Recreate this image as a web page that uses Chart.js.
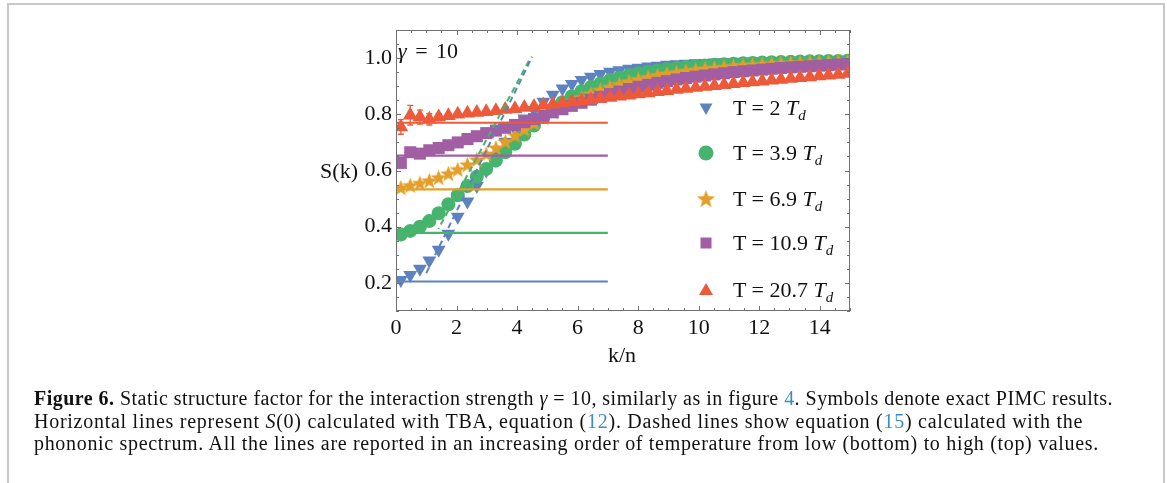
<!DOCTYPE html>
<html lang="en">
  <head>
    <meta charset="UTF-8" />
    <title>Figure 6 - static structure factor</title>
    <script src="https://cdn.jsdelivr.net/npm/chart.js@4.4.1/dist/chart.umd.min.js"></script>
    <style>
      html, body { margin: 0; padding: 0; background: #fff; }
      body { width: 1167px; height: 483px; position: relative; overflow: hidden; font-family: "Liberation Serif", "DejaVu Serif", serif; color: #111; }
      #box { position: absolute; left: 7px; top: 3px; width: 1154px; height: 520px; border-left: 2px solid #c8c8c8; border-top: 2px solid #c8c8c8; border-right: 2px solid #c8c8c8; }
      #chart { position: absolute; left: 0; top: 0; }
      .lbl { position: absolute; font-size: 22px; line-height: 26px; white-space: nowrap; }
      .leg { position: absolute; left: 733px; font-size: 22px; line-height: 26px; white-space: nowrap; }
      .leg sub { font-size: 15px; vertical-align: -5px; font-style: italic; }
      #caption { position: absolute; left: 34px; top: 387px; font-size: 20px; line-height: 22.5px; }
      #caption div { white-space: nowrap; }
      .ref { color: #3a8cc4; }
    </style>
  </head>
  <body>
    <div id="box"></div>
    <canvas id="chart" width="1167" height="483"></canvas>

    <div class="lbl" style="left: 398px; top: 38px; word-spacing: 3px"><i>γ</i> = 10</div>
    <div class="lbl" style="right: 809px; top: 158px">S(k)</div>
    <div class="lbl" style="left: 622px; top: 342px; transform: translateX(-50%)">k/n</div>

    <div class="leg" style="top: 95px">T = 2 <i>T</i><sub>d</sub></div>
    <div class="leg" style="top: 140px">T = 3.9 <i>T</i><sub>d</sub></div>
    <div class="leg" style="top: 186px">T = 6.9 <i>T</i><sub>d</sub></div>
    <div class="leg" style="top: 230px">T = 10.9 <i>T</i><sub>d</sub></div>
    <div class="leg" style="top: 277px">T = 20.7 <i>T</i><sub>d</sub></div>

    <div id="caption">
      <div><span class="line"><b>Figure 6.</b> Static structure factor for the interaction strength <i>γ</i> = 10, similarly as in figure <span class="ref">4</span>. Symbols denote exact PIMC results.</span></div>
      <div><span class="line">Horizontal lines represent <i>S</i>(0) calculated with TBA, equation (<span class="ref">12</span>). Dashed lines show equation (<span class="ref">15</span>) calculated with the</span></div>
      <div><span class="line">phononic spectrum. All the lines are reported in an increasing order of temperature from low (bottom) to high (top) values.</span></div>
    </div>

    <script>
      // k/n grid of the PIMC points
      const kValues = [0.16, 0.47, 0.79, 1.10, 1.41, 1.73, 2.04, 2.36, 2.67, 2.98,
        3.30, 3.61, 3.93, 4.24, 4.56, 4.87, 5.18, 5.50, 5.81, 6.13,
        6.44, 6.75, 7.07, 7.38, 7.70, 8.01, 8.33, 8.64, 8.95, 9.27,
        9.58, 9.90, 10.21, 10.52, 10.84, 11.15, 11.47, 11.78, 12.10, 12.41,
        12.72, 13.04, 13.35, 13.67, 13.98, 14.29, 14.61, 14.92];

      // S(k), PIMC
      const sT2 = [0.210, 0.228, 0.250, 0.280, 0.318, 0.375, 0.435, 0.490, 0.545, 0.600,
        0.652, 0.702, 0.748, 0.785, 0.815, 0.845, 0.870, 0.892, 0.908, 0.922,
        0.934, 0.943, 0.951, 0.957, 0.962, 0.966, 0.970, 0.973, 0.976, 0.978,
        0.980, 0.982, 0.983, 0.984, 0.985, 0.986, 0.987, 0.988, 0.988, 0.989,
        0.989, 0.990, 0.990, 0.991, 0.991, 0.991, 0.992, 0.992];
      const sT39 = [0.372, 0.385, 0.400, 0.420, 0.448, 0.480, 0.512, 0.545, 0.578, 0.605,
        0.635, 0.665, 0.695, 0.728, 0.760, 0.790, 0.818, 0.843, 0.864, 0.882,
        0.897, 0.910, 0.922, 0.931, 0.939, 0.946, 0.951, 0.956, 0.961, 0.965,
        0.968, 0.971, 0.974, 0.976, 0.978, 0.980, 0.982, 0.983, 0.984, 0.985,
        0.986, 0.987, 0.988, 0.989, 0.989, 0.990, 0.990, 0.991];
      const sT69 = [0.540, 0.548, 0.556, 0.565, 0.576, 0.590, 0.605, 0.622, 0.640, 0.660,
        0.682, 0.704, 0.726, 0.748, 0.770, 0.790, 0.810, 0.828, 0.845, 0.860,
        0.874, 0.887, 0.898, 0.908, 0.917, 0.925, 0.932, 0.939, 0.945, 0.950,
        0.955, 0.959, 0.963, 0.966, 0.969, 0.972, 0.975, 0.977, 0.979, 0.981,
        0.982, 0.984, 0.985, 0.986, 0.987, 0.988, 0.989, 0.990];
      const sT109 = [0.627, 0.665, 0.660, 0.672, 0.680, 0.690, 0.700, 0.712, 0.722, 0.733,
        0.742, 0.752, 0.762, 0.772, 0.783, 0.795, 0.807, 0.818, 0.830, 0.841,
        0.852, 0.862, 0.872, 0.881, 0.890, 0.898, 0.905, 0.912, 0.918, 0.924,
        0.929, 0.934, 0.938, 0.942, 0.946, 0.950, 0.953, 0.956, 0.959, 0.962,
        0.965, 0.967, 0.969, 0.971, 0.973, 0.975, 0.977, 0.979];
      const sT207 = [0.755, 0.797, 0.790, 0.782, 0.790, 0.795, 0.800, 0.804, 0.806, 0.809,
        0.813, 0.817, 0.820, 0.824, 0.828, 0.832, 0.836, 0.840, 0.844, 0.848,
        0.852, 0.856, 0.860, 0.864, 0.868, 0.872, 0.876, 0.880, 0.884, 0.888,
        0.892, 0.895, 0.899, 0.902, 0.905, 0.909, 0.912, 0.915, 0.918, 0.921,
        0.924, 0.927, 0.930, 0.933, 0.936, 0.939, 0.942, 0.945];
      // error bars of the first T = 20.7 points
      const errT207 = [0.026, 0.035, 0.025, 0.02, 0.012];

      // S(0) from TBA (horizontal lines, k from 0 to 7)
      const s0K = [0, 7];
      const s0Values = [0.205, 0.378, 0.533, 0.653, 0.77];

      // phononic approximation, eq. (15)
      const dashK2 = [1.0, 4.5];
      const dashS2 = [0.235, 1.005];
      const dashK39 = [1.4, 4.46];
      const dashS39 = [0.392, 1.004];

      const xTicks = [0, 2, 4, 6, 8, 10, 12, 14];
      const yTicks = [0.2, 0.4, 0.6, 0.8, 1.0];

      const colBlue = "#5e82bf";
      const colGreen = "#47b46d";
      const colOrange = "#e49f2a";
      const colPurple = "#a25ea3";
      const colRed = "#ec5a3a";

      function starImage(size, color) {
        const c = document.createElement("canvas");
        c.width = c.height = size;
        const g = c.getContext("2d");
        const R = size / 2, r = R * 0.42;
        g.beginPath();
        for (let i = 0; i < 10; i++) {
          const a = -Math.PI / 2 + (i * Math.PI) / 5;
          const rr = i % 2 ? r : R;
          g.lineTo(R + rr * Math.cos(a), R + 1 + rr * Math.sin(a));
        }
        g.closePath();
        g.fillStyle = color;
        g.fill();
        return c;
      }

      const pts = (xs, ys) => xs.map((x, i) => ({ x: x, y: ys[i] }));

      const markerSets = [
        { data: sT2, color: colBlue, style: "triangle", radius: 8, rotation: 180, order: 5 },
        { data: sT39, color: colGreen, style: "circle", radius: 7, rotation: 0, order: 4 },
        { data: sT69, color: colOrange, style: starImage(17, colOrange), radius: 8, rotation: 0, order: 3 },
        { data: sT109, color: colPurple, style: "rect", radius: 8.5, rotation: 0, order: 2 },
        { data: sT207, color: colRed, style: "triangle", radius: 8.5, rotation: 0, order: 1 },
      ];

      const datasets = markerSets.map((m) => ({
        data: pts(kValues, m.data),
        pointStyle: m.style,
        pointRadius: m.radius,
        pointRotation: m.rotation,
        backgroundColor: m.color,
        borderWidth: 0,
        showLine: false,
        order: m.order,
      }));

      const lineColors = [colBlue, colGreen, colOrange, colPurple, colRed];
      s0Values.forEach((v, i) => {
        datasets.push({
          type: "line",
          data: pts(s0K, [v, v]),
          borderColor: lineColors[i],
          borderWidth: 2.2,
          pointRadius: 0,
          order: 0,
        });
      });
      datasets.push({
        type: "line", data: pts(dashK2, dashS2), borderColor: colBlue,
        borderWidth: 2, borderDash: [6, 4], pointRadius: 0, order: 0,
      });
      datasets.push({
        type: "line", data: pts(dashK39, dashS39), borderColor: colGreen,
        borderWidth: 2, borderDash: [6, 4], borderDashOffset: 5, pointRadius: 0, order: 0,
      });

      // frame with inward ticks, error bars, legend symbols
      const framePlugin = {
        id: "frameTicks",
        afterDatasetsDraw(chart) {
          const { ctx, chartArea: a, scales } = chart;
          const xs = scales.x, ys = scales.y;
          ctx.save();

          // error bars
          ctx.strokeStyle = colRed;
          ctx.lineWidth = 1.3;
          errT207.forEach((e, i) => {
            const px = xs.getPixelForValue(kValues[i]);
            const y1 = ys.getPixelForValue(sT207[i] + e);
            const y2 = ys.getPixelForValue(sT207[i] - e);
            ctx.beginPath();
            ctx.moveTo(px, y1); ctx.lineTo(px, y2);
            ctx.moveTo(px - 3, y1); ctx.lineTo(px + 3, y1);
            ctx.moveTo(px - 3, y2); ctx.lineTo(px + 3, y2);
            ctx.stroke();
          });

          ctx.strokeStyle = "#707070";
          ctx.lineWidth = 1;
          ctx.strokeRect(a.left + 0.5, a.top + 0.5, a.right - a.left - 1, a.bottom - a.top - 1);

          ctx.beginPath();
          for (let v = 0; v <= 15.001; v += 0.5) {
            const px = Math.round(xs.getPixelForValue(v)) + 0.5;
            const len = Math.abs(v % 2) < 0.01 ? 5 : 3;
            ctx.moveTo(px, a.bottom); ctx.lineTo(px, a.bottom - len);
            ctx.moveTo(px, a.top); ctx.lineTo(px, a.top + len);
          }
          for (let v = 0.1; v <= 1.101; v += 0.05) {
            const py = Math.round(ys.getPixelForValue(v)) + 0.5;
            const r = v / 0.2;
            const len = Math.abs(r - Math.round(r)) < 0.01 ? 5 : 3;
            ctx.moveTo(a.left, py); ctx.lineTo(a.left + len, py);
            ctx.moveTo(a.right, py); ctx.lineTo(a.right - len, py);
          }
          ctx.stroke();

          // legend symbols
          const lx = 706;
          const ly = [108, 153, 199, 243, 290];
          ctx.fillStyle = colBlue;
          ctx.beginPath();
          ctx.moveTo(lx - 6.5, ly[0] - 4.5); ctx.lineTo(lx + 6.5, ly[0] - 4.5); ctx.lineTo(lx, ly[0] + 7);
          ctx.fill();
          ctx.fillStyle = colGreen;
          ctx.beginPath();
          ctx.arc(lx, ly[1], 7.5, 0, Math.PI * 2);
          ctx.fill();
          const star = starImage(19, colOrange);
          ctx.drawImage(star, lx - 9.5, ly[2] - 10);
          ctx.fillStyle = colPurple;
          ctx.fillRect(lx - 5.5, ly[3] - 5.5, 11, 11);
          ctx.fillStyle = colRed;
          ctx.beginPath();
          ctx.moveTo(lx - 7, ly[4] + 5); ctx.lineTo(lx + 7, ly[4] + 5); ctx.lineTo(lx, ly[4] - 7);
          ctx.fill();
          ctx.restore();
        },
      };

      const tickFont = { family: "Liberation Serif", size: 22 };

      new Chart(document.getElementById("chart"), {
        type: "scatter",
        data: { datasets: datasets },
        options: {
          responsive: false,
          animation: false,
          layout: { padding: { left: 300, top: 30, right: 317, bottom: 140 } },
          plugins: { legend: { display: false }, tooltip: { enabled: false } },
          scales: {
            x: {
              type: "linear", min: 0, max: 15,
              afterBuildTicks: (s) => { s.ticks = xTicks.map((v) => ({ value: v })); },
              afterFit: (s) => { s.height = 32; },
              grid: { display: false, drawTicks: false },
              border: { display: false },
              ticks: { font: tickFont, color: "#111", padding: 4, maxRotation: 0, autoSkip: false, callback: (v) => String(v) },
            },
            y: {
              type: "linear", min: 0.1, max: 1.1,
              afterBuildTicks: (s) => { s.ticks = yTicks.map((v) => ({ value: v })); },
              afterFit: (s) => { s.width = 96; },
              grid: { display: false, drawTicks: false },
              border: { display: false },
              ticks: { font: tickFont, color: "#111", padding: 4, autoSkip: false, callback: (v) => v.toFixed(1) },
            },
          },
        },
        plugins: [framePlugin],
      });

      // stretch each caption line to the width it has in the figure
      const captionWidths = [1079, 1049, 1065];
      function fitCaption() {
        document.querySelectorAll("#caption .line").forEach((el, i) => {
          el.style.letterSpacing = "0px";
          const w = el.getBoundingClientRect().width;
          const n = el.textContent.length;
          el.style.letterSpacing = (captionWidths[i] - w) / n + "px";
        });
      }
      fitCaption();
      document.fonts.ready.then(fitCaption);
    </script>
  </body>
</html>
